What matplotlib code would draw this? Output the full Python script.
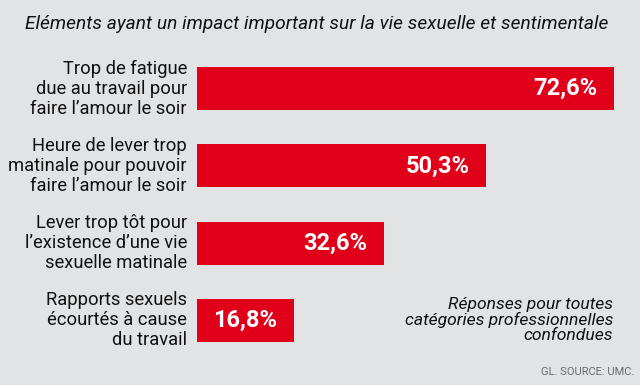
import matplotlib
matplotlib.use("Agg")
import matplotlib.pyplot as plt

categories = [
    "Trop de fatigue\ndue au travail pour\nfaire l\u2019amour le soir",
    "Heure de lever trop\nmatinale pour pouvoir\nfaire l\u2019amour le soir",
    "Lever trop t\u00f4t pour\nl\u2019existence d\u2019une vie\nsexuelle matinale",
    "Rapports sexuels\n\u00e9court\u00e9s \u00e0 cause\ndu travail",
]
values = [72.6, 50.3, 32.6, 16.8]
value_labels = ["72,6%", "50,3%", "32,6%", "16,8%"]
title = "El\u00e9ments ayant un impact important sur la vie sexuelle et sentimentale"
note = "R\u00e9ponses pour toutes\ncat\u00e9gories professionnelles\nconfondues"
source = "GL. SOURCE: UMC."

FAM = ["Roboto", "DejaVu Sans"]
BG = "#e2e3e5"
RED = "#e1001a"

W, H = 640, 385
fig = plt.figure(figsize=(W / 100, H / 100), dpi=100, facecolor=BG)
x0 = 197
ax = fig.add_axes([x0 / W, 0, 1 - x0 / W, 1])
ax.set_facecolor("none")
ax.axis("off")

pitch = 77.3
first = 88.5
ypos = list(range(len(values)))
ax.barh(ypos, values, height=43 / pitch, color=RED, left=0)
ax.set_xlim(0, (W - x0) / 5.75)
ax.set_ylim((H - first) / pitch, -first / pitch)

for i, (c, v, vl) in enumerate(zip(categories, values, value_labels)):
    ax.annotate(c, xy=(0, i), xytext=(-7.2, 0), textcoords="offset points",
                ha="right", va="center", multialignment="right",
                fontsize=13.2, family=FAM, color="#111111", linespacing=1.14)
    ax.annotate(vl, xy=(v, i), xytext=(-12.2, 0), textcoords="offset points",
                ha="right", va="center", fontsize=17, fontweight="bold",
                family=FAM, color="white")

fig.text(25 / W, 1 - 24 / H, title, ha="left", va="center", fontsize=13.75,
         style="italic", family=FAM, color="#111111")
fig.text(613 / W, 1 - 320 / H, note, ha="right", va="center", fontsize=12.6,
         style="italic", family=FAM, color="#111111", multialignment="right",
         linespacing=0.98)
fig.text(634 / W, 1 - 372 / H, source, ha="right", va="center", fontsize=8,
         family=FAM, color="#6b6b6b")

fig.savefig("out.png", dpi=100, facecolor=BG)
